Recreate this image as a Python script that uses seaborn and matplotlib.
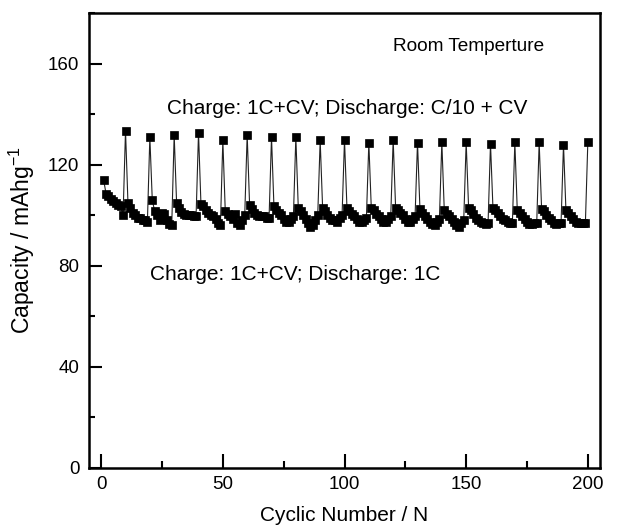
import numpy as np
import pandas as pd
import matplotlib
matplotlib.use("Agg")
import matplotlib.pyplot as plt
import seaborn as sns
from matplotlib.ticker import MultipleLocator

# Discharge capacity at C/10 + CV (every tenth cycle)
slow_cycles = [10, 20, 30, 40, 50, 60, 70, 80, 90, 100,
               110, 120, 130, 140, 150, 160, 170, 180, 190, 200]
slow_capacity = [133.5, 130.9, 131.8, 132.6, 129.6, 131.8, 130.9, 130.9, 129.6, 129.9,
                 128.7, 129.9, 128.7, 128.9, 128.9, 128.3, 128.9, 128.9, 127.9, 128.9]

# Discharge capacity at 1C for the nine cycles following each slow cycle
fast_capacity = [
    114.0, 108.5, 107.5, 106.5, 105.5, 104.7, 104.0, 103.5, 100.0,   # 1-9
    105.0, 103.0, 101.0, 100.0, 99.0, 98.8, 98.2, 98.0, 97.5,        # 11-19
    106.0, 101.5, 100.0, 98.0, 101.0, 100.5, 98.0, 96.5, 96.0,       # 21-29
    104.7, 102.7, 101.4, 100.5, 100.0, 100.0, 100.0, 99.8, 99.5,     # 31-39
    104.5, 103.5, 102.0, 101.0, 100.0, 99.5, 98.5, 97.0, 96.0,       # 41-49
    101.5, 100.5, 99.5, 98.5, 100.5, 97.0, 96.0, 98.0, 100.0,        # 51-59
    104.0, 102.5, 101.0, 100.0, 99.5, 99.5, 99.5, 99.0, 99.0,        # 61-69
    103.5, 102.0, 101.0, 100.0, 98.5, 97.5, 97.5, 98.5, 99.5,        # 71-79
    103.0, 101.5, 100.0, 98.5, 97.0, 95.5, 96.0, 98.0, 100.0,        # 81-89
    103.0, 101.5, 100.0, 99.0, 98.0, 98.0, 97.5, 99.0, 100.0,        # 91-99
    103.0, 101.5, 100.5, 99.5, 98.5, 97.5, 97.5, 98.0, 99.0,         # 101-109
    103.0, 102.0, 100.5, 99.5, 98.5, 97.5, 97.5, 98.5, 99.5,         # 111-119
    103.0, 102.0, 101.0, 100.0, 98.5, 97.5, 97.5, 98.5, 99.5,        # 121-129
    102.5, 101.0, 99.5, 98.5, 97.5, 96.5, 96.0, 97.5, 98.5,          # 131-139
    102.0, 100.5, 99.5, 98.5, 97.5, 96.0, 95.5, 97.0, 98.0,          # 141-149
    103.0, 102.0, 100.5, 99.0, 98.0, 97.5, 97.0, 96.5, 97.0,         # 151-159
    103.0, 102.0, 101.0, 99.5, 98.5, 98.0, 97.5, 97.0, 97.0,         # 161-169
    102.0, 101.0, 99.5, 98.5, 97.5, 96.5, 96.5, 97.0, 97.0,          # 171-179
    102.5, 101.5, 100.0, 99.0, 98.0, 97.0, 96.5, 97.0, 97.0,         # 181-189
    102.0, 101.0, 99.5, 98.5, 97.5, 97.0, 97.0, 97.0, 97.0,          # 191-199
]

x_ticks = [0, 50, 100, 150, 200]
y_ticks = [0, 40, 80, 120, 160]

# Assemble the full cycle sequence (1C cycles interleaved with C/10 cycles)
cycles = []
capacity = []
fi = 0
for sc, sv in zip(slow_cycles, slow_capacity):
    for c in range(sc - 9, sc):
        cycles.append(c)
        capacity.append(fast_capacity[fi])
        fi += 1
    cycles.append(sc)
    capacity.append(sv)
df = pd.DataFrame({"Cycle": cycles, "Capacity": capacity})

sns.set_style("white")
plt.rcParams["font.family"] = ["Liberation Sans", "DejaVu Sans"]
plt.rcParams["mathtext.fontset"] = "custom"
plt.rcParams["mathtext.rm"] = "Liberation Sans"
plt.rcParams["text.color"] = "black"
plt.rcParams["axes.labelcolor"] = "black"

fig = plt.figure(figsize=(6.19, 5.26), dpi=100)
ax = fig.add_axes([0.1438, 0.1103, 0.8255, 0.865])

sns.lineplot(data=df, x="Cycle", y="Capacity", ax=ax, sort=False,
             color="#222222", linewidth=0.8, marker="s", markersize=5.4,
             markerfacecolor="black", markeredgecolor="black", markeredgewidth=0.5)

ax.set_xlim(-5, 205)
ax.set_ylim(0, 180)
ax.set_xticks(x_ticks)
ax.set_yticks(y_ticks)
ax.xaxis.set_minor_locator(MultipleLocator(25))
ax.yaxis.set_minor_locator(MultipleLocator(20))
ax.tick_params(axis="both", which="both", direction="in", width=1.5,
               colors="black", bottom=True, left=True, top=False, right=False,
               labelsize=13.5)
ax.tick_params(axis="x", which="major", length=10, pad=6)
ax.tick_params(axis="x", which="minor", length=5)
ax.tick_params(axis="y", which="major", length=9, pad=7)
ax.tick_params(axis="y", which="minor", length=4.5)
for s in ax.spines.values():
    s.set_linewidth(1.8)
    s.set_color("black")

ax.set_xlabel("Cyclic Number / N", fontsize=15, labelpad=9)
ax.set_ylabel("Capacity / mAhg$^{-1}$", fontsize=16.5, labelpad=8)

ax.text(120, 165, "Room Temperture", fontsize=13.7, ha="left", va="baseline")
ax.text(27, 140, "Charge: 1C+CV; Discharge: C/10 + CV", fontsize=15, ha="left", va="baseline")
ax.text(20, 74.5, "Charge: 1C+CV; Discharge: 1C", fontsize=15, ha="left", va="baseline")

fig.savefig("out.png", dpi=100)
